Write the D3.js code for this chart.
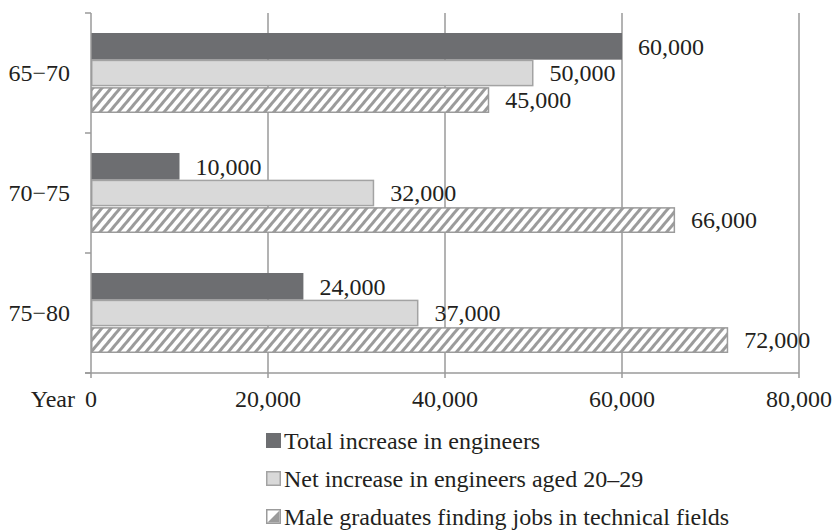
<!DOCTYPE html>
<html>
<head>
<meta charset="utf-8">
<script src="https://cdn.jsdelivr.net/npm/d3@7/dist/d3.min.js"></script>
<style>
  html, body { margin: 0; padding: 0; background: #fff; }
  svg text { font-family: "Liberation Serif", "Times New Roman", serif; fill: #231f20; }
</style>
</head>
<body>
<svg id="chart" width="832" height="530"></svg>
<script>
// Periods shown on the vertical axis
const periods = ["65\u221270", "70\u221275", "75\u221280"];
// Series names (legend order)
const seriesNames = [
  "Total increase in engineers",
  "Net increase in engineers aged 20\u201329",
  "Male graduates finding jobs in technical fields"
];
// Values per series, one per period
const totalIncrease = [60000, 10000, 24000];
const netIncrease20to29 = [50000, 32000, 37000];
const maleGraduates = [45000, 66000, 72000];
// Horizontal axis ticks
const xTicks = [0, 20000, 40000, 60000, 80000];

const seriesValues = [totalIncrease, netIncrease20to29, maleGraduates];

const svg = d3.select("#chart");
const margin = { left: 91, right: 33, top: 13, bottom: 157 };
const W = 832, H = 530;
const gridColor = "#9a9a9a";
const labelSize = 24;
const legendSize = 24;

// Hatch pattern for the third series
const defs = svg.append("defs");
defs.append("pattern")
  .attr("id", "hatch")
  .attr("patternUnits", "userSpaceOnUse")
  .attr("width", 7)
  .attr("height", 7)
  .attr("patternTransform", "rotate(40)")
  .call(p => {
    p.append("rect").attr("width", 7).attr("height", 7).attr("fill", "#fff");
    p.append("rect").attr("x", 0).attr("y", 0).attr("width", 3).attr("height", 7).attr("fill", "#9b9b9b");
  });

const fills = ["#6d6e71", "#d9d9d9", "url(#hatch)"];
const strokes = ["none", "#a3a3a3", "#9b9b9b"];

const x = d3.scaleLinear().domain([0, 80000]).range([margin.left, W - margin.right]);
const y = d3.scaleBand().domain(periods).range([margin.top, H - margin.bottom])
  .paddingInner(1 / 3).paddingOuter(1 / 6);
const ySeries = d3.scaleBand().domain(d3.range(seriesNames.length)).range([0, y.bandwidth()]);

const yTop = margin.top, yBottom = H - margin.bottom;

// Vertical gridlines (extending a little below the axis as tick marks)
svg.append("g")
  .selectAll("line")
  .data(xTicks.slice(1))
  .join("line")
  .attr("x1", d => x(d)).attr("x2", d => x(d))
  .attr("y1", yTop).attr("y2", yBottom + 5)
  .attr("stroke", gridColor).attr("stroke-width", 1.5);

// Bars
const groups = svg.append("g")
  .selectAll("g")
  .data(periods)
  .join("g")
  .attr("transform", d => `translate(0,${y(d)})`);

groups.each(function (p, i) {
  const g = d3.select(this);
  seriesValues.forEach((vals, s) => {
    const v = vals[i];
    const inset = s === 0 ? 0 : 0.75;
    g.append("rect")
      .attr("x", x(0) + inset)
      .attr("y", ySeries(s) + inset + (s === 2 ? 0.8 : 0))
      .attr("width", x(v) - x(0) - 2 * inset)
      .attr("height", ySeries.bandwidth() - 2 * inset - (s === 2 ? 0.8 : 0))
      .attr("fill", fills[s])
      .attr("stroke", strokes[s])
      .attr("stroke-width", 1.5);
    g.append("text")
      .attr("x", x(v) + 16)
      .attr("y", ySeries(s) + ySeries.bandwidth() / 2)
      .attr("dy", "0.35em")
      .attr("font-size", labelSize)
      .text(d3.format(",")(v));
  });
});

// Left axis line with ticks pointing outward at band boundaries
const leftAxis = svg.append("g");
leftAxis.append("line")
  .attr("x1", x(0)).attr("x2", x(0)).attr("y1", yTop).attr("y2", yBottom + 5)
  .attr("stroke", gridColor).attr("stroke-width", 1.5);
const boundaries = periods.map(p => y(p) - y.step() * y.paddingInner() / 2).concat([yBottom]);
leftAxis.selectAll(".tk")
  .data(boundaries)
  .join("line")
  .attr("x1", x(0) - 6).attr("x2", x(0))
  .attr("y1", d => d).attr("y2", d => d)
  .attr("stroke", gridColor).attr("stroke-width", 1.5);
leftAxis.selectAll("text")
  .data(periods)
  .join("text")
  .attr("x", 70)
  .attr("y", d => y(d) + y.bandwidth() / 2)
  .attr("dy", "0.35em")
  .attr("text-anchor", "end")
  .attr("font-size", labelSize)
  .text(d => d);

// Bottom axis line
svg.append("line")
  .attr("x1", x(0) - 6).attr("x2", x(80000))
  .attr("y1", yBottom).attr("y2", yBottom)
  .attr("stroke", gridColor).attr("stroke-width", 1.5);

// Bottom tick labels
svg.append("g")
  .selectAll("text")
  .data(xTicks)
  .join("text")
  .attr("x", d => x(d))
  .attr("y", 407)
  .attr("text-anchor", "middle")
  .attr("font-size", labelSize)
  .text(d => d3.format(",")(d));

svg.append("text")
  .attr("x", 75).attr("y", 407)
  .attr("text-anchor", "end")
  .attr("font-size", labelSize)
  .text("Year");

// Legend
const legend = svg.append("g");
const legendBaseline = [449, 487, 525];
seriesNames.forEach((name, s) => {
  const base = legendBaseline[s];
  const sq = 15, sx = 266, sy = base - 16;
  if (s === 0) {
    legend.append("rect").attr("x", sx).attr("y", sy).attr("width", sq).attr("height", sq)
      .attr("fill", fills[0]);
  } else if (s === 1) {
    legend.append("rect").attr("x", sx + 0.75).attr("y", sy + 0.75).attr("width", sq - 1.5).attr("height", sq - 1.5)
      .attr("fill", fills[1]).attr("stroke", strokes[1]).attr("stroke-width", 1.5);
  } else {
    legend.append("rect").attr("x", sx + 0.75).attr("y", sy + 0.75).attr("width", sq - 1.5).attr("height", sq - 1.5)
      .attr("fill", "#fff").attr("stroke", strokes[2]).attr("stroke-width", 1.5);
    legend.append("path")
      .attr("d", `M${sx + sq - 1.5},${sy + 1.5} L${sx + sq - 1.5},${sy + sq - 1.5} L${sx + 1.5},${sy + sq - 1.5} Z`)
      .attr("fill", "#9b9b9b");
  }
  legend.append("text")
    .attr("x", 284).attr("y", base)
    .attr("font-size", legendSize)
    .text(name);
});
</script>
</body>
</html>
